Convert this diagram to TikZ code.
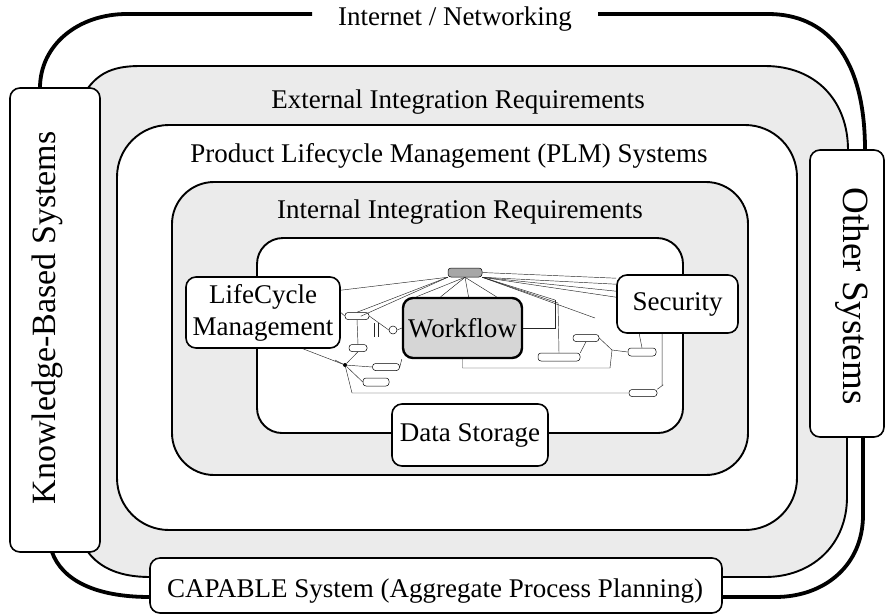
\documentclass[tikz,border=0pt]{standalone}
\usepackage{fontspec}
\setmainfont{Liberation Serif}
\usetikzlibrary{calc}

\begin{document}
\begin{tikzpicture}[x=1pt,y=-1pt,
  lbl/.style={font=\fontsize{27}{32}\selectfont, anchor=base, inner sep=0pt},
  box/.style={draw, line width=1.6pt, rounded corners=10pt, fill=white, inner sep=0pt,
              font=\fontsize{27}{32}\selectfont, align=center},
  ring/.style={line width=1.9pt},
  net/.style={line width=3.8pt},
  band/.style={fill=black!8},
  tiny/.style={draw, line width=0.5pt, rounded corners=3pt, fill=white, inner sep=0pt},
  wire/.style={line width=0.45pt, draw=black!85}
]
\useasboundingbox (0,0) rectangle (885,614);

% --- shaded bands -------------------------------------------------------
\path[band] (88,88) .. controls (100,72) and (115,66) .. (140,66) -- (765,66)
  .. controls (815,66) and (848,100) .. (848,150) -- (847,497)
  .. controls (847,545) and (812,577) .. (765,577) -- (150,577)
  .. controls (120,577) and (100,568) .. (88,552) -- cycle;
\path[fill=white, rounded corners=52pt] (117,125) rectangle (797,530);
\path[band, rounded corners=42pt] (172,182) rectangle (748,475);
\path[fill=white, rounded corners=26pt] (257,238) rectangle (683,433);

% --- Internet / Networking ring -----------------------------------------
\draw[net] (40,88) .. controls (40,45) and (78,14) .. (127,14) -- (312,14);
\draw[net] (598,14) -- (768,14) .. controls (825,14) and (865,55) .. (865,150);
\draw[net] (863,437) -- (863,515) .. controls (863,565) and (825,597) .. (775,597) -- (722,597);
\draw[net] (52,552) .. controls (62,580) and (95,597) .. (150,597);

% --- External integration ring ------------------------------------------
\draw[ring] (88,88) .. controls (100,72) and (115,66) .. (140,66) -- (765,66)
  .. controls (815,66) and (848,100) .. (848,150);
\draw[ring] (847,437) -- (847,497) .. controls (847,545) and (812,577) .. (765,577) -- (722,577);
\draw[ring] (88,552) .. controls (100,568) and (120,577) .. (150,577);

% --- PLM and internal rings ---------------------------------------------
\draw[ring, rounded corners=52pt] (117,125) rectangle (797,530);
\draw[ring, rounded corners=42pt] (172,182) rectangle (748,475);

% --- core ring (broken by the module boxes) -----------------------------
\draw[ring, rounded corners=26pt] (257,278) |- (683,238) -- (683,276);
\draw[ring, rounded corners=25pt] (257,347) |- (393,433);
\draw[ring, rounded corners=25pt] (683,332) |- (547,433);

% --- ring labels --------------------------------------------------------
\node[lbl] (tnet) at (455,25)  {Internet / Networking};
\node[lbl] (text) at (458,108) {External Integration Requirements};
\node[lbl] (tplm) at (449,162) {Product Lifecycle Management (PLM) Systems};
\node[lbl] (tint) at (460,218) {Internal Integration Requirements};

% --- outer system boxes -------------------------------------------------
\node[box, minimum width=90pt, minimum height=464pt] (kbs) at (55,320) {};
\node[inner sep=0pt, anchor=base, rotate=90, font=\fontsize{34}{40}\selectfont]
  (kbst) at (55,318) {Knowledge-Based Systems};
\node[box, minimum width=74pt, minimum height=287pt] (oth) at (847,293.5) {};
\node[inner sep=0pt, anchor=base, rotate=-90, font=\fontsize{37}{42}\selectfont]
  (otht) at (843,296) {Other Systems};
\node[box, minimum width=572pt, minimum height=55pt] (cap) at (436,585.5) {};
\node[lbl] (capt) at (435,597) {CAPABLE System (Aggregate Process Planning)};

% --- embedded process map -----------------------------------------------
\node[tiny, fill=black!35, minimum width=34pt, minimum height=9pt] (plm) at (465,272.5) {};
\node[tiny, minimum width=24pt, minimum height=7pt] (t1) at (357,316) {};
\node[tiny, minimum width=18pt, minimum height=7pt] (t2) at (358,348) {};
\node[tiny, minimum width=27pt, minimum height=7pt] (t3) at (386,367) {};
\node[tiny, minimum width=26pt, minimum height=8pt] (t4) at (376,382) {};
\node[tiny, minimum width=42pt, minimum height=8pt] (t5) at (559,357) {};
\node[tiny, minimum width=26pt, minimum height=7pt] (t6) at (586,338) {};
\node[tiny, minimum width=28pt, minimum height=8pt] (t7) at (642,352) {};
\node[tiny, minimum width=28pt, minimum height=7pt] (t8) at (643,393) {};
\node[draw, circle, line width=0.5pt, inner sep=0pt, minimum size=8pt, fill=white] (c1) at (393,330) {};
\node[circle, fill=black, inner sep=0pt, minimum size=4pt] (dot) at (345,365) {};
\coordinate (j1) at (555,300);
\coordinate (j2) at (558,303);
\coordinate (j3) at (612,350);
\coordinate (j4) at (663,385);
\coordinate (j5) at (352,393);

% module boxes
\node[box] (lcm) [minimum width=154pt, minimum height=71pt] at (263,312.5)
  {LifeCycle\\Management};
\node[box, line width=2.4pt, fill=black!16] (wf) [minimum width=119pt, minimum height=60pt]
  at (462.5,328) {Workflow};
\node[box] (sec) [minimum width=121pt, minimum height=58pt] at (677.5,304) {Security};
\node[box] (ds) [minimum width=156pt, minimum height=62pt] at (470,435) {Data Storage};

% fan of links out of the hub
\foreach \f in {0.12,0.32,0.55,0.78}
  \draw[wire] (plm.south) -- ($(wf.north west)!\f!(wf.north east)$);
\draw[wire] (plm.south west) -- ($(lcm.north east)+(0,14)$);
\draw[wire] (plm.south west) -- (t1.north);
\draw[wire] (plm.south west) -- ($(lcm.north east)+(20,40)$);
\draw[wire] (plm.south east) -- (j1);
\draw[wire] (plm.south east) -- (j2);
\draw[wire] (plm.south east) -- (595,318);
\draw[wire] (plm.south east) -- ($(sec.north west)+(0,10)$);
\draw[wire] (plm.south east) -- ($(sec.north west)+(0,17)$);
\draw[wire] (plm.south east) -- ($(sec.north west)+(0,23)$);
\draw[wire] (plm.east) -- ($(sec.north west)+(0,4)$);
% links among the small activities
\draw[wire] (lcm.east) -- (t1.west);
\draw[wire] (t1.east) -- (c1.west);
\draw[wire] (c1.east) -- (wf.west);
\draw[wire] (374,323) -- (374,337) (378,323) -- (378,337);
\draw[wire] (t1.south) -- (t2.north);
\draw[wire] (t2.south) -- (dot);
\draw[wire] ($(lcm.south)+(40,0)$) -- (dot);
\draw[wire] (dot) -- (t4.west);
\draw[wire] (dot) -- (t3.west);
\draw[wire] (dot) -- (335,360);
\draw[wire] (dot) -- (j5) -- (t8.west);
\draw[wire] (t3.east) -- (wf.south west);
\draw[wire] (wf.east) -| (j1);
\draw[wire] (j2) -- (t5.north);
\draw[wire] (wf.south) |- (610,368) -- (j3);
\draw[wire] (t5.north east) -- (t6.south);
\draw[wire] (t6.east) -- (j3) -- (t7.west);
\draw[wire] ($(sec.south west)+(23,0)$) -- (t7.north);
\draw[wire] ($(sec.south west)+(46,0)$) |- (j4) -- (t8.north east);
\end{tikzpicture}
\end{document}
